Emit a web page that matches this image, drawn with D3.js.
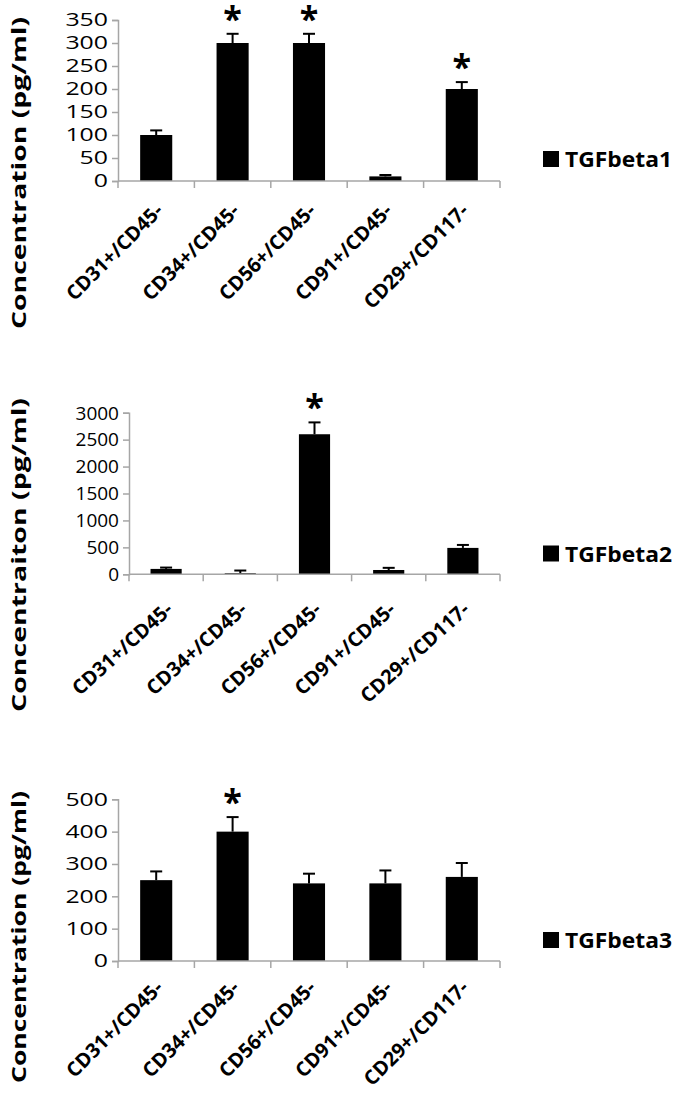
<!DOCTYPE html>
<html>
<head>
<meta charset="utf-8">
<script src="https://cdn.jsdelivr.net/npm/d3@7"></script>
<style>
  body { margin: 0; background: #fff; }
  text { font-family: "Open Sans", Lato, sans-serif; fill: #000; }
</style>
</head>
<body>
<div id="chart"></div>
<script>
// categories shared by the three panels
let categories = ["CD31+/CD45-", "CD34+/CD45-", "CD56+/CD45-", "CD91+/CD45-", "CD29+/CD117-"]

// TGFbeta1
let tgf1Values = [100, 300, 300, 10, 200]
let tgf1Errors = [10, 20, 20, 3, 15]
let tgf1Stars = [false, true, true, false, true]
let tgf1Ticks = [0, 50, 100, 150, 200, 250, 300, 350]

// TGFbeta2
let tgf2Values = [100, 20, 2600, 80, 490]
let tgf2Errors = [25, 50, 220, 40, 55]
let tgf2Stars = [false, false, true, false, false]
let tgf2Ticks = [0, 500, 1000, 1500, 2000, 2500, 3000]

// TGFbeta3
let tgf3Values = [250, 400, 240, 240, 260]
let tgf3Errors = [27, 45, 30, 40, 43]
let tgf3Stars = [false, true, false, false, false]
let tgf3Ticks = [0, 100, 200, 300, 400, 500]

let width = 679
let height = 1093
let axisColor = "#a6a6a6"

// layout of each panel (pixels)
let panels = [
  { name: "TGFbeta1", title: "Concentration (pg/ml)", values: tgf1Values, errors: tgf1Errors, stars: tgf1Stars, ticks: tgf1Ticks,
    x0: 118, x1: 500, yTop: 20, yBottom: 181, tickFont: 18, tickStretch: 1.38,
    titleY: 173, titleLen: 312, labelDy: 31, labelAngle: -45, legendY: 151 },
  { name: "TGFbeta2", title: "Concentraiton (pg/ml)", values: tgf2Values, errors: tgf2Errors, stars: tgf2Stars, ticks: tgf2Ticks,
    x0: 129, x1: 500, yTop: 412.7, yBottom: 574.3, tickFont: 19, tickStretch: 1.0,
    titleY: 555, titleLen: 314, labelDy: 37, labelAngle: -42, legendY: 545.5 },
  { name: "TGFbeta3", title: "Concentration (pg/ml)", values: tgf3Values, errors: tgf3Errors, stars: tgf3Stars, ticks: tgf3Ticks,
    x0: 118, x1: 500, yTop: 799.3, yBottom: 961, tickFont: 18, tickStretch: 1.38,
    titleY: 937, titleLen: 292, labelDy: 28, labelAngle: -45, legendY: 932 }
]

let svg = d3.select("#chart")
  .append("svg")
  .attr("width", width)
  .attr("height", height)

panels.forEach(p => {
  let g = svg.append("g")

  let x = d3.scaleBand()
    .domain(categories)
    .range([p.x0, p.x1])
    .padding(0)

  let y = d3.scaleLinear()
    .domain([0, d3.max(p.ticks)])
    .range([p.yBottom, p.yTop])

  let barW = x.bandwidth() * 0.42

  // y axis
  let yAxis = g.append("g")
    .attr("transform", "translate(" + p.x0 + ",0)")
    .call(d3.axisLeft(y).tickValues(p.ticks).tickSize(6).tickFormat(""))
  yAxis.select(".domain").attr("stroke", axisColor).attr("stroke-width", 1.5)
  yAxis.selectAll(".tick line").attr("stroke", axisColor).attr("stroke-width", 1.5)

  g.selectAll(".ylab")
    .data(p.ticks)
    .enter()
    .append("text")
    .attr("transform", d => "translate(" + (p.x0 - 10) + "," + y(d) + ") scale(" + p.tickStretch + ",1)")
    .attr("text-anchor", "end")
    .attr("dy", "0.36em")
    .style("font-size", p.tickFont + "px")
    .text(d => d)

  // bars
  g.selectAll(".bar")
    .data(p.values)
    .enter()
    .append("rect")
    .attr("x", (d, i) => x(categories[i]) + (x.bandwidth() - barW) / 2)
    .attr("y", d => y(d))
    .attr("width", barW)
    .attr("height", d => y(0) - y(d))
    .attr("fill", "#000")

  // error bars (upper only)
  p.values.forEach((v, i) => {
    let cx = x(categories[i]) + x.bandwidth() / 2
    let top = y(v + p.errors[i])
    g.append("line")
      .attr("x1", cx).attr("x2", cx)
      .attr("y1", y(v)).attr("y2", top)
      .attr("stroke", "#000").attr("stroke-width", 2)
    g.append("line")
      .attr("x1", cx - 6).attr("x2", cx + 6)
      .attr("y1", top).attr("y2", top)
      .attr("stroke", "#000").attr("stroke-width", 2)
    if (p.stars[i]) {
      g.append("text")
        .attr("x", cx)
        .attr("y", top - 3)
        .attr("text-anchor", "middle")
        .style("font-size", "34px")
        .style("font-weight", "bold")
        .text("*")
    }
  })

  // x axis
  let xAxis = g.append("g")
    .attr("transform", "translate(0," + p.yBottom + ")")
  xAxis.append("line")
    .attr("x1", p.x0).attr("x2", p.x1)
    .attr("stroke", axisColor).attr("stroke-width", 1.5)
  xAxis.selectAll(".xtick")
    .data(d3.range(categories.length + 1))
    .enter()
    .append("line")
    .attr("x1", i => p.x0 + i * x.step())
    .attr("x2", i => p.x0 + i * x.step())
    .attr("y1", 0).attr("y2", 7)
    .attr("stroke", axisColor).attr("stroke-width", 1.5)

  g.selectAll(".xlab")
    .data(categories)
    .enter()
    .append("text")
    .attr("transform", d => "translate(" + (x(d) + x.bandwidth() / 2 + 8) + "," + (p.yBottom + p.labelDy) + ") rotate(" + p.labelAngle + ")")
    .attr("text-anchor", "end")
    .style("font-size", "20px")
    .style("font-weight", "bold")
    .text(d => d)

  // y title
  g.append("text")
    .attr("transform", "translate(26," + p.titleY + ") rotate(-90)")
    .attr("text-anchor", "middle")
    .attr("textLength", p.titleLen)
    .attr("lengthAdjust", "spacingAndGlyphs")
    .style("font-size", "20px")
    .style("font-weight", "bold")
    .text(p.title)

  // legend
  g.append("rect")
    .attr("x", 543).attr("y", p.legendY)
    .attr("width", 16).attr("height", 16)
    .attr("fill", "#000")
  g.append("text")
    .attr("x", 565).attr("y", p.legendY + 16)
    .attr("textLength", 107)
    .attr("lengthAdjust", "spacingAndGlyphs")
    .style("font-size", "21px")
    .style("font-weight", "bold")
    .text(p.name)
})
</script>
</body>
</html>
